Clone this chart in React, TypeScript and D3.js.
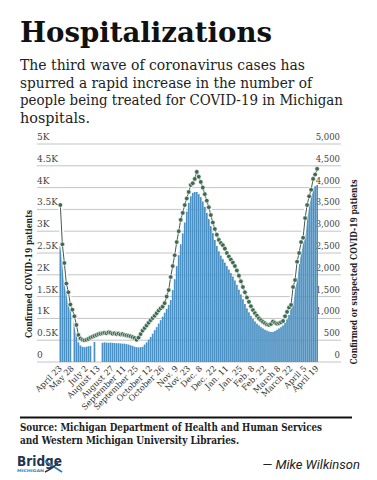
import React from "react";
import * as d3 from "d3";

// Confirmed COVID-19 patients (bars, left axis)
const confirmed: (number | null)[] = [
  2650, 2500, 2150, 1850, 1600, 1350, null, 1000, 700, 450,
  380, 350, 340, 350, 360, 370, null, 460, null, null,
  null, 440, 450, 445, 440, 445, 440, 435, 430, 430,
  425, 420, 420, 410, 400, 385, 370, 350, 340, 335,
  340, 350, 400, 450, 510, 575, 650, 730, 800, 880,
  960, 1040, 1130, 1220, 1310, 1420, 1650, 1900, 2200, 2450,
  2700, 2950, 3200, 3450, 3650, 3800, 3880, 3900, 3900, 3850,
  3780, 3680, 3560, 3420, 3280, 3120, 2960, 2800, 2660, 2540,
  2440, 2360, 2280, 2200, 2120, 2040, 1960, 1870, 1770, 1660,
  1550, 1440, 1330, 1230, 1140, 1060, 990, 930, 880, 840,
  800, 770, 740, 720, 700, 690, 690, 710, 740, 770,
  800, 840, 900, 980, 1080, 1250, 1480, 1720, 1950, 2250,
  2550, 2850, 3200, 3500, 3780, 3980, 4080, 4030, 4060,
];

// Confirmed or suspected COVID-19 patients (dots, right axis)
const suspected: number[] = [
  3600, 2700, 2270, 1800, 1600, 1320, 1200, 1050, 850, 620,
  540, 510, 500, 510, 530, 560, 580, 600, 620, 640,
  650, 660, 670, 660, 680, 670, 650, 660, 640, 650,
  630, 640, 620, 610, 600, 590, 570, 550, 510, 560,
  640, 720, 780, 840, 900, 960, 1010, 1060, 1120, 1180,
  1230, 1270, 1350, 1500, 1650, 1950, 2200, 2450, 2750, 3000,
  3260, 3420, 3600, 3750, 3900, 4060, 4100, 4200, 4360, 4250,
  4130, 4000, 3850, 3700, 3550, 3370, 3200, 3050, 2920, 2800,
  2730, 2680, 2600, 2500, 2420, 2350, 2280, 2200, 2100, 1980,
  1850, 1720, 1600, 1480, 1380, 1280, 1190, 1120, 1060, 1000,
  960, 920, 890, 860, 850, 870, 930, 900, 880, 890,
  910, 940, 1050, 1150, 1250, 1310, 1720, 1880, 2300, 2500,
  2750, 2850, 3300, 3600, 3800, 3950, 4200, 4300, 4430,
];

const tickLabels = [
  "April 23", "May 28", "July 2", "August 13", "August 27", "September 11",
  "September 25", "October 12", "October 26", "Nov. 9", "Nov. 23", "Dec. 8",
  "Dec. 22", "Jan. 11", "Jan. 25", "Feb. 8", "Feb. 22", "March 8",
  "March 22", "April 5", "April 19",
];

const yTicks = [0, 500, 1000, 1500, 2000, 2500, 3000, 3500, 4000, 4500, 5000];

const subtitleLines = [
  "The third wave of coronavirus cases has",
  "spurred a rapid increase in the number of",
  "people being treated for COVID-19 in Michigan",
  "hospitals.",
];
const subtitleWidths = [285, 292, 323, 70];

const SERIF = "'DejaVu Serif', serif";

export default function App() {
  const W = 377;
  const H = 480;
  const idx = d3.range(confirmed.length);
  const x = d3.scaleBand<number>().domain(idx).range([59.5, 318]).paddingInner(0.15);
  const y = d3.scaleLinear().domain([0, 5000]).range([362, 144]);
  const gridX0 = 37;
  const gridX1 = 341;

  const cx = (i: number) => (x(i) as number) + x.bandwidth() / 2;
  const line = d3
    .line<number>()
    .x((_, i) => cx(i))
    .y((d) => y(d));
  const linePath = line(suspected) || "";

  const n = confirmed.length;
  const tickIdx = tickLabels.map((_, k) => Math.round((k * (n - 1)) / (tickLabels.length - 1)));

  const fmtLeft = (v: number) => (v === 0 ? "0" : `${v / 1000}K`);
  const fmtRight = d3.format(",");

  return (
    <svg
      width={W}
      height={H}
      style={{ position: "absolute", left: 0, top: 0, background: "#fff" }}
      xmlns="http://www.w3.org/2000/svg"
    >
      <rect width={W} height={H} fill="#fff" />
      <text x={20} y={42} fontFamily={SERIF} fontWeight="bold" fontSize={28.5} fill="#111"
        textLength={252} lengthAdjust="spacingAndGlyphs">
        Hospitalizations
      </text>
      {subtitleLines.map((t, i) => (
        <text key={i} x={20} y={70 + i * 17.5} fontFamily={SERIF} fontSize={14.5} fill="#222"
          textLength={subtitleWidths[i]} lengthAdjust="spacingAndGlyphs">
          {t}
        </text>
      ))}

      {/* gridlines + tick labels */}
      {yTicks.map((t) => (
        <g key={t}>
          <line x1={gridX0} x2={gridX1} y1={y(t)} y2={y(t)} stroke="#c4c4c4" strokeWidth={1} />
          <text x={gridX0} y={y(t) - 4} fontFamily={SERIF} fontSize={9} fill="#444">
            {fmtLeft(t)}
          </text>
          <text x={gridX1 - 1} y={y(t) - 4} fontFamily={SERIF} fontSize={8.5} fill="#444" textAnchor="end">
            {fmtRight(t)}
          </text>
        </g>
      ))}

      {/* bars */}
      {confirmed.map((v, i) =>
        v == null ? null : (
          <rect key={i} x={x(i)} y={y(v)} width={x.bandwidth()} height={y(0) - y(v)} fill="#4a90c2" />
        )
      )}

      {/* line with white halo */}
      <path d={linePath} fill="none" stroke="#fff" strokeWidth={4.5} strokeLinejoin="round" />
      <path d={linePath} fill="none" stroke="#46594d" strokeWidth={1} />
      {suspected.map((v, i) => (
        <circle key={i} cx={cx(i)} cy={y(v)} r={2.3} fill="#3d6a50" stroke="#fff" strokeWidth={0.6} />
      ))}

      {/* x tick labels */}
      {tickIdx.map((ti, k) => (
        <text key={k} transform={`translate(${cx(ti) + 2},${369}) rotate(-45)`} textAnchor="end"
          fontFamily={SERIF} fontSize={8.2} fill="#333">
          {tickLabels[k]}
        </text>
      ))}

      {/* axis titles */}
      <text transform={`translate(31.5,274) rotate(-90)`} textAnchor="middle" fontFamily={SERIF}
        fontWeight="bold" fontSize={9.5} fill="#222" textLength={128} lengthAdjust="spacingAndGlyphs">
        Confirmed COVID-19 patients
      </text>
      <text transform={`translate(356.5,272) rotate(-90)`} textAnchor="middle" fontFamily={SERIF}
        fontWeight="bold" fontSize={9.5} fill="#222" textLength={185} lengthAdjust="spacingAndGlyphs">
        Confirmed or suspected COVID-19 patients
      </text>

      {/* source */}
      <line x1={20} x2={352} y1={417.5} y2={417.5} stroke="#111" strokeWidth={2} />
      <text x={20} y={430.5} fontFamily={SERIF} fontWeight="bold" fontSize={11} fill="#222"
        textLength={302} lengthAdjust="spacingAndGlyphs">
        Source: Michigan Department of Health and Human Services
      </text>
      <text x={20} y={443.5} fontFamily={SERIF} fontWeight="bold" fontSize={11} fill="#222"
        textLength={219} lengthAdjust="spacingAndGlyphs">
        and Western Michigan University Libraries.
      </text>

      {/* logo */}
      <text x={17} y={466} fontFamily="'DejaVu Sans', sans-serif" fontWeight="bold" fontSize={14.5}
        fill="#1f3550" textLength={45} lengthAdjust="spacingAndGlyphs">
        Bridge
      </text>
      <text x={17} y={471.5} fontFamily="'DejaVu Sans', sans-serif" fontWeight="bold" fontSize={3.8}
        fill="#2f7fb5" textLength={27} lengthAdjust="spacingAndGlyphs">
        MICHIGAN
      </text>
      <path d="M45 461 L62 472" stroke="#2f7fb5" strokeWidth={2} fill="none" />
      <path d="M45 472 Q52 469 58 463" stroke="#1f3550" strokeWidth={1.5} fill="none" />

      <text x={360} y={469} textAnchor="end" fontFamily="Roboto, sans-serif" fontStyle="italic"
        fontSize={13} fill="#222">
        — Mike Wilkinson
      </text>
    </svg>
  );
}
